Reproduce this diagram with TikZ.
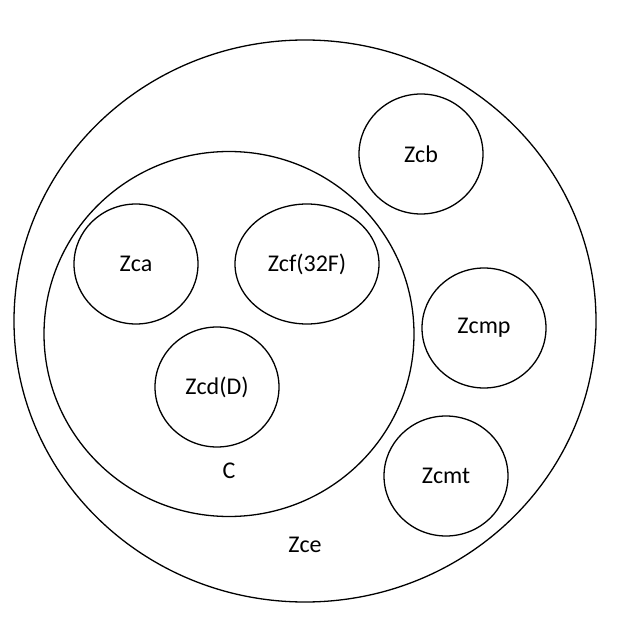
\documentclass[tikz,border=0pt]{standalone}
\usepackage{fontspec}
\setmainfont{Carlito}
\usetikzlibrary{positioning}
\usetikzlibrary{shapes.geometric}
\tikzset{
  zone/.style = {ellipse, draw=black, line width=1.3pt, inner sep=0pt,
    align=center, font=\fontsize{24}{28}\selectfont},
  zone_s/.style = {zone, minimum width=124pt, minimum height=120pt},% small zone
  zone_lbl/.style = {font=\fontsize{24}{28}\selectfont}% free label
}
\begin{document}
\begin{tikzpicture}[x=1pt,y=1pt]
\useasboundingbox (0,0) rectangle (637,630);
\node [zone, minimum width=582pt, minimum height=562pt] (zce) at (305,309) {};
\node [zone, minimum width=370pt, minimum height=365pt] (c) at (229,296) {};

\node [zone_s] (zca) at (136,366) {Zca};
\node [zone_s, minimum width=144pt] (zcf) at (307,366) {Zcf(32F)};
\node [zone_s] (zcd) at (217,243) {Zcd(D)};
\node [zone_s] (zcb) at (421,476) {Zcb};
\node [zone_s] (zcmp) at (484,302) {Zcmp};
\node [zone_s] (zcmt) at (446,154) {Zcmt};

\node [zone_lbl] at (c) [yshift=-137pt] {C};
\node [zone_lbl] at (zce) [yshift=-224pt] {Zce};
\end{tikzpicture}
\end{document}
